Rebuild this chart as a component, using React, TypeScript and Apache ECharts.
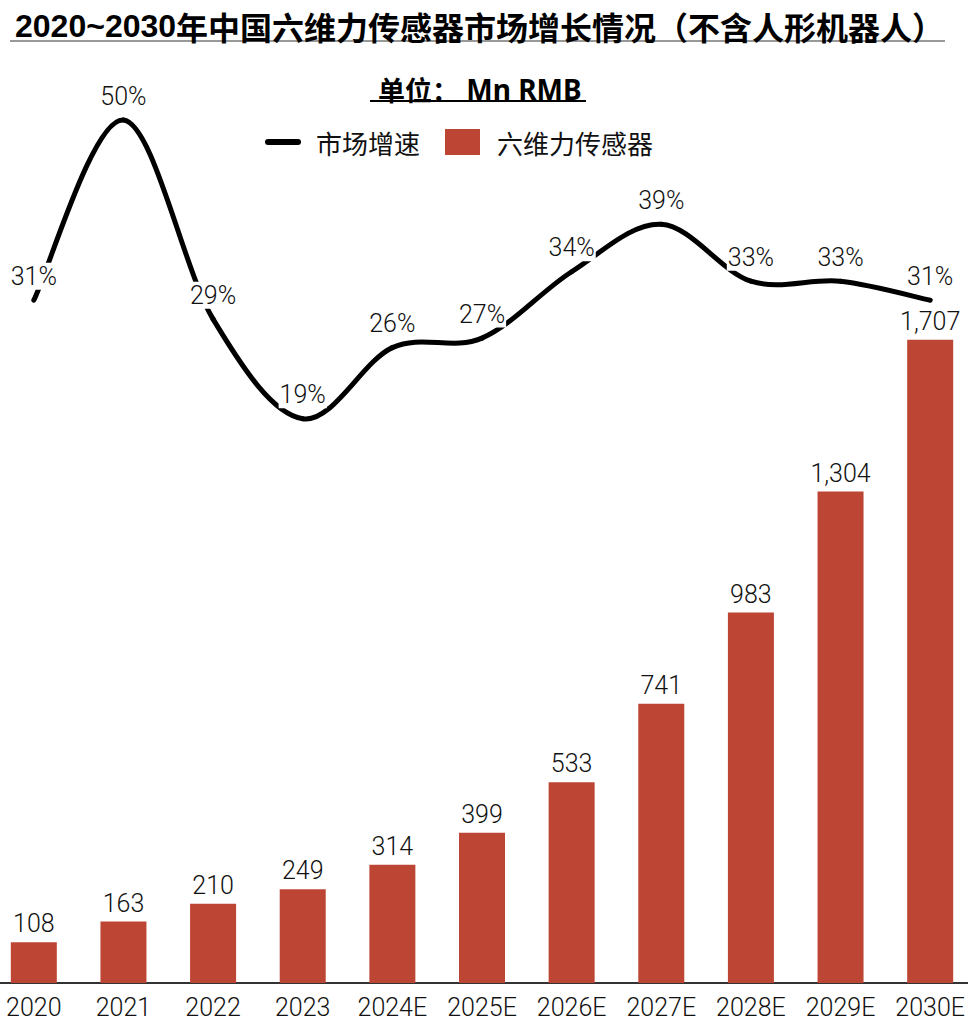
import React, { useEffect, useRef } from "react";
import * as echarts from "echarts";

const categories = ["2020", "2021", "2022", "2023", "2024E", "2025E", "2026E", "2027E", "2028E", "2029E", "2030E"];
const sensorValues = [108, 163, 210, 249, 314, 399, 533, 741, 983, 1304, 1707];
const growthValues = [31, 50, 29, 18.5, 26, 27, 34, 39, 33, 33, 31];

const titleYears = "2020~2030";
const titleRest = "年中国六维力传感器市场增长情况（不含人形机器人）";
const unitCn = "单位：";
const unitEn = " Mn RMB";
const lineName = "市场增速";
const barName = "六维力传感器";

const NUM_FONT = "Roboto, 'Noto Sans', sans-serif";
const CJK_FONT = "'Noto Sans CJK SC', sans-serif";
const OFF = 11; // inner chart is shifted left by OFF px

export default function App() {
  const ref = useRef<HTMLDivElement>(null);
  useEffect(() => {
    if (!ref.current) return;
    const chart = echarts.init(ref.current, undefined, { renderer: "svg" });
    const n = growthValues.length;
    chart.setOption({
      animation: false,
      backgroundColor: "#fff",
      title: [
        {
          text: `{d|${titleYears}}{c|${titleRest}}`,
          left: 10 + OFF,
          top: 5,
          textStyle: {
            rich: {
              d: { fontSize: 32, fontWeight: "bold", color: "#000", fontFamily: "'Liberation Sans', Arial, sans-serif" },
              c: { fontSize: 32, fontWeight: "bold", color: "#000", fontFamily: CJK_FONT },
            },
          },
        },
        {
          text: `{c|${unitCn}}{l|${unitEn}}`,
          left: 373 + OFF,
          top: 70,
          textStyle: {
            rich: {
              c: { fontSize: 27, fontWeight: "bold", color: "#000", fontFamily: CJK_FONT },
              l: { fontSize: 28, fontWeight: "bold", color: "#000", fontFamily: "'Noto Sans', sans-serif" },
            },
          },
        },
      ],
      graphic: [
        { type: "line", shape: { x1: 10 + OFF, y1: 41, x2: 945 + OFF, y2: 41 }, style: { stroke: "#777", lineWidth: 1.5 } },
        { type: "line", shape: { x1: 370 + OFF, y1: 101, x2: 586 + OFF, y2: 101 }, style: { stroke: "#000", lineWidth: 2 } },
      ],
      legend: [
        {
          left: 260 + OFF,
          top: 124,
          itemWidth: 36,
          itemHeight: 6,
          formatter: (name: string) => `{t|${name}}`,
          textStyle: { rich: { t: { fontSize: 26, color: "#111", fontFamily: CJK_FONT, padding: [0, 0, 0, 10] } } },
          data: [
            { name: lineName, icon: "path://M3,0 L33,0 A3,3 0 0 1 33,6 L3,6 A3,3 0 0 1 3,0 Z", itemStyle: { color: "#000" } },
          ],
        },
        {
          left: 440 + OFF,
          top: 124,
          itemWidth: 35,
          itemHeight: 26,
          formatter: (name: string) => `{t|${name}}`,
          textStyle: { rich: { t: { fontSize: 26, color: "#111", fontFamily: CJK_FONT, padding: [0, 0, 0, 12] } } },
          data: [{ name: barName, icon: "rect", itemStyle: { color: "#BD4534" } }],
        },
      ],
      grid: { left: 0, right: 0, top: 120, bottom: 38, containLabel: false },
      xAxis: {
        type: "category",
        data: categories,
        axisLine: { show: true, lineStyle: { color: "#333", width: 2 } },
        axisTick: { show: false },
        axisLabel: { fontSize: 25, color: "#111", margin: 12, fontFamily: NUM_FONT, fontWeight: 300, interval: 0 },
      },
      yAxis: [
        { type: "value", min: 0, max: 2290, show: false, splitLine: { show: false } },
        { type: "value", min: -41, max: 50, show: false, splitLine: { show: false } },
      ],
      series: [
        {
          name: barName,
          type: "bar",
          data: sensorValues,
          barWidth: 46,
          itemStyle: { color: "#BD4534" },
          label: {
            show: true,
            position: "top",
            distance: 6,
            fontSize: 25,
            fontWeight: 300,
            color: "#111",
            fontFamily: NUM_FONT,
            formatter: (p: any) => Number(p.value).toLocaleString("en-US"),
          },
          z: 2,
        },
        {
          name: lineName,
          type: "custom",
          yAxisIndex: 1,
          data: growthValues.map((v, i) => [i, v]),
          encode: { x: 0, y: 1 },
          itemStyle: { color: "#000" },
          z: 3,
          renderItem: (params: any, api: any) => {
            const i = params.dataIndex;
            const pt = (k: number) => {
              const kk = Math.max(0, Math.min(n - 1, k));
              return api.coord([kk, growthValues[kk]]);
            };
            const p1 = pt(i);
            const children: any[] = [];
            if (i < n - 1) {
              const p0 = pt(i - 1);
              const p2 = pt(i + 1);
              const p3 = pt(i + 2);
              const t = 1 / 6;
              children.push({
                type: "bezierCurve",
                shape: {
                  x1: p1[0],
                  y1: p1[1],
                  x2: p2[0],
                  y2: p2[1],
                  cpx1: p1[0] + (p2[0] - p0[0]) * t,
                  cpy1: p1[1] + (p2[1] - p0[1]) * t,
                  cpx2: p2[0] - (p3[0] - p1[0]) * t,
                  cpy2: p2[1] - (p3[1] - p1[1]) * t,
                },
                style: { stroke: "#000", lineWidth: 5, fill: null, lineCap: "round" },
                z2: 1,
              });
            }
            children.push({
              type: "text",
              x: p1[0],
              y: p1[1] - 24,
              z2: 100,
              style: {
                text: Math.round(growthValues[i]) + "%",
                fontSize: 25,
                fontWeight: 300,
                fontFamily: NUM_FONT,
                fill: "#111",
                align: "center",
                verticalAlign: "middle",
                backgroundColor: "#fff",
                padding: [1, 1],
              },
            });
            return { type: "group", children };
          },
        },
      ],
    });
    return () => chart.dispose();
  }, []);
  return (
    <div style={{ position: "absolute", left: 0, top: 0, width: 968, height: 1021, overflow: "hidden", background: "#fff" }}>
      <div ref={ref} style={{ position: "absolute", left: -OFF, top: 0, width: 968 + 2 * OFF - 4, height: 1021 }} />
    </div>
  );
}
